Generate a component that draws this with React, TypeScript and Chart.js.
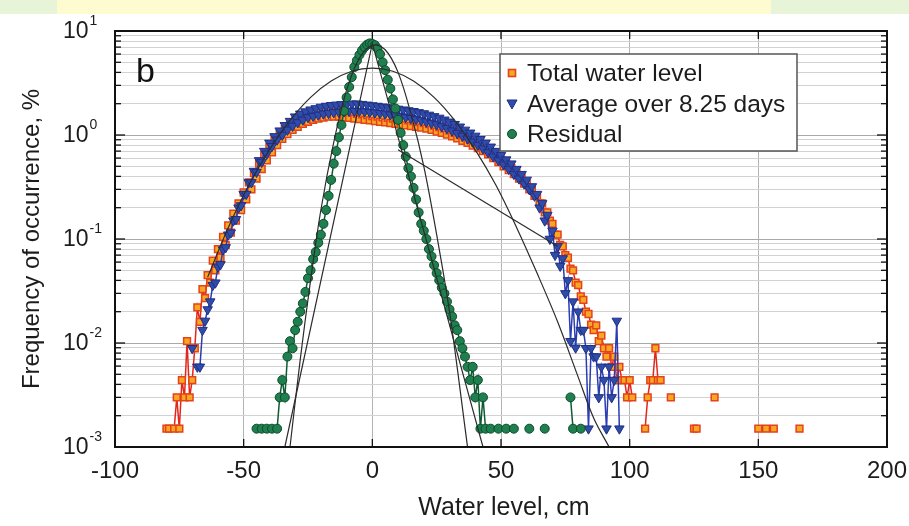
import React, { useEffect, useRef } from 'react';
import { Chart, registerables } from 'chart.js';

Chart.register(...registerables);

type Pt = [number, number | null];

// ---------------- data (x = water level bin in cm, y = frequency in %) ----------------
const totalWaterLevel: Pt[] = [
  [-80, 0.0015], [-79, 0.0015], [-78, null], [-77, 0.0015], [-76, 0.003], [-75, 0.0015], [-74, 0.0044],
  [-73, 0.003], [-72, 0.0104], [-71, 0.003], [-70, 0.0044], [-69, 0.0089], [-68, 0.022], [-67, 0.016],
  [-66, 0.033], [-65, 0.027], [-64, 0.045], [-63, 0.038], [-62, 0.062], [-61, 0.05], [-60, 0.08],
  [-59, 0.066], [-58, 0.105], [-57, 0.088], [-56, 0.135], [-55, 0.115], [-54, 0.175], [-53, 0.15],
  [-52, 0.22], [-51, 0.19], [-50, 0.28], [-49, 0.24], [-48, 0.35], [-47, 0.3], [-46, 0.43], [-45, 0.38],
  [-44, 0.53], [-43, 0.47], [-42, 0.64], [-41, 0.57], [-40, 0.77], [-39, 0.68], [-38, 0.9], [-37, 0.8],
  [-36, 1.02], [-35, 0.92], [-34, 1.14], [-33, 1.02], [-32, 1.25], [-31, 1.12], [-30, 1.35], [-29, 1.2],
  [-28, 1.44], [-27, 1.28], [-26, 1.52], [-25, 1.34], [-24, 1.58], [-23, 1.4], [-22, 1.62], [-21, 1.44],
  [-20, 1.65], [-19, 1.47], [-18, 1.68], [-17, 1.5], [-16, 1.7], [-15, 1.5], [-14, 1.7], [-13, 1.5],
  [-12, 1.68], [-11, 1.48], [-10, 1.66], [-9, 1.46], [-8, 1.64], [-7, 1.44], [-6, 1.6], [-5, 1.42],
  [-4, 1.58], [-3, 1.4], [-2, 1.55], [-1, 1.38], [0, 1.52], [1, 1.36], [2, 1.5], [3, 1.34], [4, 1.48],
  [5, 1.32], [6, 1.46], [7, 1.3], [8, 1.44], [9, 1.28], [10, 1.42], [11, 1.26], [12, 1.4], [13, 1.24],
  [14, 1.38], [15, 1.22], [16, 1.36], [17, 1.2], [18, 1.33], [19, 1.18], [20, 1.3], [21, 1.15],
  [22, 1.27], [23, 1.12], [24, 1.23], [25, 1.08], [26, 1.19], [27, 1.05], [28, 1.15], [29, 1.01],
  [30, 1.1], [31, 0.97], [32, 1.05], [33, 0.93], [34, 1.0], [35, 0.88], [36, 0.95], [37, 0.84],
  [38, 0.9], [39, 0.79], [40, 0.85], [41, 0.75], [42, 0.8], [43, 0.7], [44, 0.74], [45, 0.65],
  [46, 0.68], [47, 0.6], [48, 0.63], [49, 0.55], [50, 0.58], [51, 0.5], [52, 0.53], [53, 0.46],
  [54, 0.48], [55, 0.42], [56, 0.43], [57, 0.38], [58, 0.39], [59, 0.34], [60, 0.34], [61, 0.3],
  [62, 0.3], [63, 0.26], [64, 0.26], [65, 0.22], [66, 0.22], [67, 0.18], [68, 0.18], [69, 0.15],
  [70, 0.14], [71, 0.11], [72, 0.11], [73, 0.088], [74, 0.085], [75, 0.07], [76, 0.066], [77, 0.052],
  [78, 0.05], [79, 0.038], [80, 0.036], [81, 0.028], [82, 0.026], [83, 0.02], [84, 0.019], [85, 0.015],
  [86, 0.0133], [87, 0.0148], [88, 0.0104], [89, 0.0118], [90, 0.0089], [91, 0.0074], [92, 0.0089],
  [93, 0.0059], [94, 0.0074], [95, 0.0044], [96, 0.0059], [97, 0.0044], [98, 0.0044], [99, 0.003],
  [100, 0.0044], [101, 0.003], [102, null], [106, 0.0015], [107, 0.003], [108, 0.0044], [109, 0.0044],
  [110, 0.0089], [111, 0.0044], [112, 0.0044], [113, null], [116, 0.003], [117, null], [125, 0.0015],
  [126, 0.0015], [127, null], [133, 0.003], [134, null], [150, 0.0015], [151, null], [153, 0.0015],
  [154, null], [156, 0.0015], [157, null], [166, 0.0015],
];

const averageOver825Days: Pt[] = [
  [-70, 0.0089], [-69, null], [-68, 0.0059], [-67, 0.0059], [-66, 0.0133], [-65, 0.0163], [-64, 0.021],
  [-63, 0.025], [-62, 0.036], [-61, 0.038], [-60, 0.054], [-59, 0.057], [-58, 0.079], [-57, 0.083],
  [-56, 0.11], [-55, 0.115], [-54, 0.15], [-53, 0.155], [-52, 0.2], [-51, 0.21], [-50, 0.27], [-49, 0.27],
  [-48, 0.35], [-47, 0.35], [-46, 0.45], [-45, 0.44], [-44, 0.57], [-43, 0.55], [-42, 0.7], [-41, 0.66],
  [-40, 0.84], [-39, 0.78], [-38, 0.97], [-37, 0.9], [-36, 1.1], [-35, 1.0], [-34, 1.24], [-33, 1.12],
  [-32, 1.36], [-31, 1.22], [-30, 1.5], [-29, 1.32], [-28, 1.6], [-27, 1.4], [-26, 1.68], [-25, 1.48],
  [-24, 1.75], [-23, 1.52], [-22, 1.8], [-21, 1.56], [-20, 1.86], [-19, 1.6], [-18, 1.9], [-17, 1.62],
  [-16, 1.93], [-15, 1.65], [-14, 1.95], [-13, 1.66], [-12, 1.97], [-11, 1.68], [-10, 1.98], [-9, 1.7],
  [-8, 2.0], [-7, 1.7], [-6, 2.0], [-5, 1.7], [-4, 1.98], [-3, 1.68], [-2, 1.95], [-1, 1.66], [0, 1.92],
  [1, 1.64], [2, 1.9], [3, 1.62], [4, 1.87], [5, 1.6], [6, 1.84], [7, 1.57], [8, 1.81], [9, 1.54],
  [10, 1.78], [11, 1.51], [12, 1.75], [13, 1.48], [14, 1.72], [15, 1.45], [16, 1.69], [17, 1.42],
  [18, 1.65], [19, 1.38], [20, 1.61], [21, 1.34], [22, 1.56], [23, 1.3], [24, 1.51], [25, 1.26],
  [26, 1.46], [27, 1.21], [28, 1.4], [29, 1.16], [30, 1.34], [31, 1.1], [32, 1.27], [33, 1.04],
  [34, 1.2], [35, 0.98], [36, 1.12], [37, 0.92], [38, 1.05], [39, 0.86], [40, 0.98], [41, 0.8],
  [42, 0.91], [43, 0.74], [44, 0.84], [45, 0.68], [46, 0.77], [47, 0.62], [48, 0.7], [49, 0.57],
  [50, 0.64], [51, 0.52], [52, 0.58], [53, 0.47], [54, 0.53], [55, 0.42], [56, 0.47], [57, 0.38],
  [58, 0.42], [59, 0.34], [60, 0.37], [61, 0.3], [62, 0.32], [63, 0.26], [64, 0.27], [65, 0.2],
  [66, 0.22], [67, 0.15], [68, 0.17], [69, 0.1], [70, 0.12], [71, 0.07], [72, 0.085], [73, 0.055],
  [74, 0.065], [75, 0.03], [76, 0.04], [77, 0.0104], [78, 0.025], [79, 0.009], [80, 0.02], [81, 0.0133],
  [82, 0.0133], [83, 0.0089], [84, 0.0015], [85, 0.0089], [86, 0.0074], [87, 0.0074], [88, 0.003],
  [89, 0.0059], [90, 0.0044], [91, 0.0015], [92, 0.0059], [93, 0.003], [94, 0.0044], [95, 0.0163],
  [96, 0.0015],
];

const residual: Pt[] = [
  [-45, 0.0015], [-44, null], [-43, 0.0015], [-42, null], [-41, 0.0015], [-40, null], [-39, 0.0015],
  [-38, null], [-37, 0.0015], [-36, 0.003], [-35, 0.0044], [-34, 0.003], [-33, 0.0074], [-32, 0.0104],
  [-31, 0.0089], [-30, 0.0133], [-29, 0.016], [-28, 0.02], [-27, 0.024], [-26, 0.031], [-25, 0.042],
  [-24, 0.05], [-23, 0.064], [-22, 0.075], [-21, 0.092], [-20, 0.11], [-19, 0.14], [-18, 0.19],
  [-17, 0.26], [-16, 0.37], [-15, 0.53], [-14, 0.7], [-13, 0.95], [-12, 1.25], [-11, 1.7], [-10, 2.3],
  [-9, 2.9], [-8, 3.6], [-7, 4.5], [-6, 5.2], [-5, 5.9], [-4, 6.5], [-3, 7.0], [-2, 7.4], [-1, 7.6],
  [0, 7.5], [1, 7.3], [2, 6.8], [3, 6.0], [4, 5.0], [5, 4.2], [6, 3.4], [7, 2.8], [8, 2.2], [9, 1.8],
  [10, 1.4], [11, 1.05], [12, 0.8], [13, 0.62], [14, 0.48], [15, 0.4], [16, 0.31], [17, 0.24],
  [18, 0.18], [19, 0.14], [20, 0.12], [21, 0.1], [22, 0.08], [23, 0.068], [24, 0.056], [25, 0.047],
  [26, 0.04], [27, 0.034], [28, 0.03], [29, 0.025], [30, 0.021], [31, 0.018], [32, 0.0148],
  [33, 0.0133], [34, 0.0104], [35, 0.0089], [36, 0.0074], [37, 0.0059], [38, 0.0044], [39, 0.0059],
  [40, 0.003], [41, 0.0044], [42, 0.0015], [43, 0.003], [44, 0.0015], [45, null], [46, 0.0015],
  [47, null], [49, 0.0015], [50, null], [52, 0.0015], [53, null], [55, 0.0015], [56, null],
  [61, 0.0015], [62, null], [67, 0.0015], [68, null], [77, 0.003], [78, 0.0015], [79, null], [81, 0.0015],
];

// fitted distributions (thin dark lines)
const fitWideGauss: Pt[] = [
  [-64, 0.043], [-56, 0.128], [-48, 0.33], [-40, 0.72], [-32, 1.38], [-24, 2.3], [-16, 3.3], [-8, 4.1],
  [0, 4.4], [8, 4.1], [16, 3.3], [24, 2.3], [32, 1.38], [40, 0.72], [48, 0.33], [56, 0.13], [64, 0.047],
  [72, 0.016], [80, 0.0047], [86, 0.0019], [92, 0.001],
];
const fitExpTail: Pt[] = [[10, 0.72], [72, 0.085]];
const fitResidualLaplace: Pt[] = [[-34, 0.001], [0, 7.6], [43, 0.001]];
const fitResidualGauss: Pt[] = [
  [-32, 0.001], [-28, 0.007], [-24, 0.04], [-20, 0.19], [-15, 0.85], [-10, 2.7], [-5, 5.5], [0, 7.3],
  [5, 6.6], [10, 4.0], [15, 1.6], [20, 0.5], [25, 0.11], [30, 0.02], [37, 0.001],
];

const xTickValues = [-100, -50, 0, 50, 100, 150, 200];
const yDecadeExponents = [-3, -2, -1, 0, 1];
const yMantissas = [1, 2, 3, 4, 5, 6, 7, 8, 9];
const seriesLabels = ['Total water level', 'Average over 8.25 days', 'Residual'];
const xAxisTitle = 'Water level, cm';
const yAxisTitle = 'Frequency of occurrence, %';
const panelLetter = 'b';

// ---------------- styles ----------------
const FONT = '"Liberation Sans", Arial, Helvetica, sans-serif';
const TEXT = '#1c1c1c';
const RED_LINE = '#e2261c';
const RED_FILL = '#f7a722';
const RED_EDGE = '#e5421b';
const BLUE_LINE = '#2b3db2';
const BLUE_FILL = '#2f4ca8';
const BLUE_EDGE = '#1f2f86';
const GREEN_LINE = '#0f5a33';
const GREEN_FILL = '#1f7f4f';
const GREEN_EDGE = '#0c4a2a';
const FIT = '#2b2b2b';

const toXY = (pts: Pt[]) => pts.map(([x, y]) => ({ x, y }));

const decorPlugin = {
  id: 'decor',
  afterDraw(chart: any) {
    const { ctx, chartArea: ca, scales } = chart;
    const xs = scales.x;
    const ys = scales.y;
    ctx.save();

    // legend box
    const lx = 500, ly = 54, lw = 297, lh = 97;
    ctx.fillStyle = '#ffffff';
    ctx.fillRect(lx, ly, lw, lh);
    ctx.strokeStyle = '#555';
    ctx.lineWidth = 1.5;
    ctx.strokeRect(lx, ly, lw, lh);
    const rows = [ly + 19, ly + 50, ly + 80];
    const mx = lx + 12;
    ctx.fillStyle = RED_FILL; ctx.strokeStyle = RED_EDGE; ctx.lineWidth = 1.6;
    ctx.fillRect(mx - 3.5, rows[0] - 3.5, 7, 7); ctx.strokeRect(mx - 3.5, rows[0] - 3.5, 7, 7);
    ctx.fillStyle = BLUE_FILL; ctx.strokeStyle = BLUE_EDGE; ctx.lineWidth = 1;
    ctx.beginPath(); ctx.moveTo(mx - 5, rows[1] - 4); ctx.lineTo(mx + 5, rows[1] - 4); ctx.lineTo(mx, rows[1] + 5); ctx.closePath(); ctx.fill(); ctx.stroke();
    ctx.fillStyle = GREEN_FILL; ctx.strokeStyle = GREEN_EDGE;
    ctx.beginPath(); ctx.arc(mx, rows[2], 4.5, 0, Math.PI * 2); ctx.fill(); ctx.stroke();
    ctx.fillStyle = TEXT; ctx.font = `24.5px ${FONT}`; ctx.textAlign = 'left'; ctx.textBaseline = 'middle';
    seriesLabels.forEach((s, i) => ctx.fillText(s, lx + 27, rows[i] + 1));

    // inward tick marks
    ctx.strokeStyle = '#111'; ctx.lineWidth = 1.3;
    const line = (x1: number, y1: number, x2: number, y2: number) => { ctx.beginPath(); ctx.moveTo(x1, y1); ctx.lineTo(x2, y2); ctx.stroke(); };
    xTickValues.forEach((v) => {
      const px = xs.getPixelForValue(v);
      line(px, ca.bottom, px, ca.bottom - 8);
      line(px, ca.top, px, ca.top + 8);
    });
    yDecadeExponents.forEach((e) => {
      yMantissas.forEach((m) => {
        const val = m * Math.pow(10, e);
        if (val > 10.0001) return;
        const py = ys.getPixelForValue(val);
        const len = m === 1 ? 10 : 6;
        line(ca.left, py, ca.left + len, py);
        line(ca.right, py, ca.right - len, py);
      });
    });

    // frame
    ctx.strokeStyle = '#111'; ctx.lineWidth = 2;
    ctx.strokeRect(ca.left, ca.top, ca.right - ca.left, ca.bottom - ca.top);

    // panel letter
    ctx.fillStyle = '#111'; ctx.font = `34px ${FONT}`; ctx.textAlign = 'left'; ctx.textBaseline = 'alphabetic';
    ctx.fillText(panelLetter, 136, 82);

    // x tick labels
    ctx.fillStyle = TEXT; ctx.font = `24px ${FONT}`; ctx.textAlign = 'center'; ctx.textBaseline = 'middle';
    xTickValues.forEach((v) => ctx.fillText(String(v), xs.getPixelForValue(v), 471));

    // y tick labels 10^n
    yDecadeExponents.forEach((e) => {
      const py = ys.getPixelForValue(Math.pow(10, e));
      ctx.font = `23px ${FONT}`; ctx.textAlign = 'left'; ctx.textBaseline = 'middle';
      ctx.fillText('10', 63, py + 1);
      const w = ctx.measureText('10').width;
      ctx.font = `14px ${FONT}`;
      ctx.fillText(String(e), 63 + w + 1, py - 10);
    });

    // axis titles
    ctx.font = `25px ${FONT}`; ctx.textAlign = 'center'; ctx.textBaseline = 'middle';
    ctx.fillText(xAxisTitle, (ca.left + ca.right) / 2 + 3, 508);
    ctx.save();
    ctx.translate(32, (ca.top + ca.bottom) / 2);
    ctx.rotate(-Math.PI / 2);
    ctx.font = `24px ${FONT}`;
    ctx.fillText(yAxisTitle, 0, 0);
    ctx.restore();

    ctx.restore();
  },
};

export default function App() {
  const ref = useRef<HTMLCanvasElement | null>(null);

  useEffect(() => {
    if (!ref.current) return;
    const fitStyle = {
      showLine: true, pointRadius: 0, borderColor: FIT, borderWidth: 1.2, backgroundColor: FIT,
      tension: 0.35, spanGaps: false, order: 0,
    };
    const chart = new Chart(ref.current, {
      type: 'scatter',
      data: {
        datasets: [
          { label: 'fit residual laplace', data: toXY(fitResidualLaplace), ...fitStyle, tension: 0 },
          { label: 'fit residual gauss', data: toXY(fitResidualGauss), ...fitStyle },
          { label: 'fit wide', data: toXY(fitWideGauss), ...fitStyle },
          { label: 'fit exp tail', data: toXY(fitExpTail), ...fitStyle, tension: 0 },
          {
            label: seriesLabels[2], data: toXY(residual), showLine: true, spanGaps: false,
            borderColor: GREEN_LINE, borderWidth: 1.5, pointStyle: 'circle', pointRadius: 4.5,
            pointBackgroundColor: GREEN_FILL, pointBorderColor: GREEN_EDGE, pointBorderWidth: 1, order: 1,
          },
          {
            label: seriesLabels[1], data: toXY(averageOver825Days), showLine: true, spanGaps: false,
            borderColor: BLUE_LINE, borderWidth: 1.5, pointStyle: 'triangle', pointRotation: 180,
            pointRadius: 5.5, pointBackgroundColor: BLUE_FILL, pointBorderColor: BLUE_EDGE,
            pointBorderWidth: 1, order: 2,
          },
          {
            label: seriesLabels[0], data: toXY(totalWaterLevel), showLine: true, spanGaps: false,
            borderColor: RED_LINE, borderWidth: 1.5, pointStyle: 'rect', pointRadius: 4.8,
            pointBackgroundColor: RED_FILL, pointBorderColor: RED_EDGE, pointBorderWidth: 1.5, order: 3,
          },
        ],
      },
      options: {
        animation: false,
        responsive: false,
        devicePixelRatio: 1,
        events: [],
        layout: { padding: { left: 0, top: 31, right: 22, bottom: 0 }, autoPadding: false },
        plugins: { legend: { display: false }, tooltip: { enabled: false } },
        scales: {
          x: {
            type: 'linear', min: -100, max: 200,
            ticks: { display: false, stepSize: 50 },
            grid: { color: '#b4b4b4', lineWidth: 1, drawTicks: false },
            border: { display: false },
            afterFit: (s: any) => { s.height = 79; },
          },
          y: {
            type: 'logarithmic', min: 0.001, max: 10,
            ticks: { display: false },
            afterBuildTicks: (s: any) => {
              const t: any[] = [];
              yDecadeExponents.forEach((e) => yMantissas.forEach((m) => {
                const v = m * Math.pow(10, e);
                if (v <= 10.0001) t.push({ value: v, major: m === 1 });
              }));
              s.ticks = t;
            },
            grid: {
              drawTicks: false,
              lineWidth: 1,
              color: (c: any) => (c.tick && c.tick.major ? '#a9a9a9' : '#d2d2d2'),
            },
            border: { display: false },
            afterFit: (s: any) => { s.width = 115; },
          },
        },
      },
      plugins: [decorPlugin],
    } as any);
    return () => chart.destroy();
  }, []);

  return (
    <div style={{ position: 'absolute', left: 0, top: 0, width: 909, height: 526, background: '#ffffff', overflow: 'hidden' }}>
      <div style={{ position: 'absolute', left: 0, top: 0, width: 909, height: 14, background: '#e7f4d8' }} />
      <div style={{ position: 'absolute', left: 57, top: 0, width: 714, height: 14, background: '#fdfbcf' }} />
      <canvas ref={ref} width={909} height={526} style={{ position: 'absolute', left: 0, top: 0, width: 909, height: 526, display: 'block' }} />
    </div>
  );
}
